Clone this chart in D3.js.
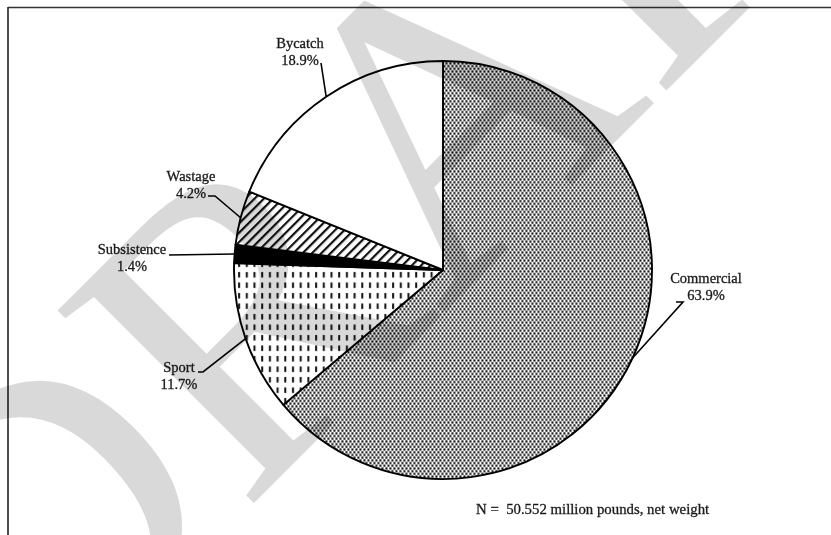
<!DOCTYPE html>
<html>
<head>
<meta charset="utf-8">
<script src="https://cdn.jsdelivr.net/npm/d3@7"></script>
<style>
  html, body { margin: 0; padding: 0; background: #fff; }
  svg { display: block; }
  text { font-family: "Liberation Serif", "Times New Roman", serif; }
</style>
</head>
<body>
<svg id="chart" width="831" height="535"></svg>
<script>
// ---- data ----
const categories = ["Commercial", "Sport", "Subsistence", "Wastage", "Bycatch"];
const percents   = [63.9, 11.7, 1.4, 4.2, 18.9];
const percentLabels = ["63.9%", "11.7%", "1.4%", "4.2%", "18.9%"];
const note = "N =  50.552 million pounds, net weight";
const watermark = "DRAFT";

// ---- layout (positions, separate from data) ----
const W = 831, H = 535;
const cx = 443, cy = 270, R = 209;
// per-label: elbow (absolute), horizontal end x, text centre x, first baseline
const labelLayout = {
  "Commercial":  { elbow: [683, 302], hx: 676, tx: 706, ty: 283 },
  "Sport":       { elbow: [203, 372], hx: 198, tx: 179, ty: 372 },
  "Subsistence": { elbow: [169, 255], hx: 169, tx: 132, ty: 254 },
  "Wastage":     { elbow: [215, 196], hx: 208, tx: 191, ty: 181 },
  "Bycatch":     { elbow: [321, 63],  hx: 321, tx: 300, ty: 48 }
};

const svg = d3.select("#chart");
const defs = svg.append("defs");

// dotted pattern (Commercial)
const pDots = defs.append("pattern").attr("id", "dots")
  .attr("patternUnits", "userSpaceOnUse").attr("width", 4).attr("height", 5.4);
pDots.append("rect").attr("width", 4).attr("height", 5.4).attr("fill", "#fff");
pDots.append("rect").attr("x", 0.4).attr("y", 0.3).attr("width", 2.1).attr("height", 2.1).attr("fill", "#111");
pDots.append("rect").attr("x", 2.4).attr("y", 3.0).attr("width", 2.1).attr("height", 2.1).attr("fill", "#111");
pDots.append("rect").attr("x", -1.6).attr("y", 3.0).attr("width", 2.1).attr("height", 2.1).attr("fill", "#111");

// vertical dashes (Sport)
const pDash = defs.append("pattern").attr("id", "dashes")
  .attr("patternUnits", "userSpaceOnUse").attr("width", 7.7).attr("height", 10.5);
pDash.append("rect").attr("width", 7.7).attr("height", 10.5).attr("fill", "#fff");
pDash.append("rect").attr("x", 3).attr("y", 2).attr("width", 2).attr("height", 5.5).attr("fill", "#111");

// diagonal hatch (Wastage)
const pHatch = defs.append("pattern").attr("id", "hatch")
  .attr("patternUnits", "userSpaceOnUse").attr("width", 6.6).attr("height", 6.6)
  .attr("patternTransform", "rotate(45)");
pHatch.append("rect").attr("width", 6.6).attr("height", 6.6).attr("fill", "#fff");
pHatch.append("rect").attr("x", 0).attr("y", 0).attr("width", 2.2).attr("height", 6.6).attr("fill", "#111");

const fills = {
  "Commercial": "url(#dots)",
  "Sport": "url(#dashes)",
  "Subsistence": "#000",
  "Wastage": "url(#hatch)",
  "Bycatch": "#fff"
};

// frame
svg.append("line").attr("x1", 8).attr("y1", 7.5).attr("x2", W).attr("y2", 7.5)
  .attr("stroke", "#333").attr("stroke-width", 1.6);
svg.append("line").attr("x1", 8).attr("y1", 7).attr("x2", 8).attr("y2", H)
  .attr("stroke", "#222").attr("stroke-width", 1.6);

// pie
const rows = categories.map((c, i) => ({ name: c, value: percents[i], label: percentLabels[i] }));
const pie = d3.pie().sort(null).value(d => d.value).startAngle(0).endAngle(2 * Math.PI);
const arcs = pie(rows);
const arc = d3.arc().innerRadius(0).outerRadius(R);

const g = svg.append("g").attr("transform", `translate(${cx},${cy})`);
g.selectAll("path").data(arcs).join("path")
  .attr("d", arc)
  .attr("fill", d => fills[d.data.name])
  .attr("stroke", "#000")
  .attr("stroke-width", 1.9)
  .attr("stroke-linejoin", "round");

// leaders and labels
const lab = svg.append("g");
arcs.forEach(d => {
  const L = labelLayout[d.data.name];
  const a = (d.startAngle + d.endAngle) / 2;
  const ex = cx + R * Math.sin(a), ey = cy - R * Math.cos(a);
  const pts = [[ex, ey], L.elbow, [L.hx, L.elbow[1]]];
  lab.append("path")
    .attr("d", d3.line()(pts))
    .attr("fill", "none").attr("stroke", "#000").attr("stroke-width", 1.6);
  const t = lab.append("text")
    .attr("x", L.tx).attr("y", L.ty)
    .attr("text-anchor", "middle")
    .attr("font-size", 14.5).attr("fill", "#1a1a1a")
    .attr("stroke", "#1a1a1a").attr("stroke-width", 0.3);
  t.append("tspan").attr("x", L.tx).attr("y", L.ty).text(d.data.name);
  t.append("tspan").attr("x", L.tx).attr("y", L.ty + 16.5).text(d.data.label);
});

// note
svg.append("text").attr("x", 476).attr("y", 514)
  .attr("font-size", 14.8).attr("fill", "#1a1a1a")
  .attr("stroke", "#1a1a1a").attr("stroke-width", 0.3)
  .attr("xml:space", "preserve").style("white-space", "pre")
  .text(note);

// watermark
svg.append("text")
  .attr("transform", "translate(29,728) rotate(-45)")
  .attr("text-anchor", "start")
  .attr("font-size", 420)
  .attr("fill", "#d9d9d9")
  .style("mix-blend-mode", "multiply")
  .text(watermark);
</script>
</body>
</html>
